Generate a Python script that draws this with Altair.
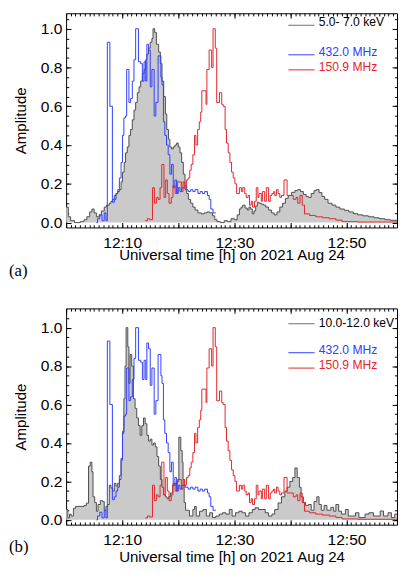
import altair as alt
import pandas as pd

# ---- data: time in minutes after 12:00 UT, normalised amplitude ----
XA_T = [0.0, 0.4, 0.8, 1.5, 2.5, 3.2, 3.7, 4.2, 4.6, 5.0, 5.4, 5.9, 6.3, 6.8, 7.2, 7.7, 8.0, 8.3, 8.6, 8.9,
        9.2, 9.5, 9.8, 10.05, 10.35, 10.6, 10.9, 11.2, 11.5, 11.8, 12.1, 12.4, 12.7, 13.0, 13.3, 13.6, 13.9,
        14.2, 14.4, 14.7, 15.0, 15.3, 15.5, 15.8, 16.1, 16.5, 16.8, 17.1, 17.4, 17.7, 17.95, 18.25, 18.5,
        18.8, 19.1, 19.4, 19.7, 20.0, 20.3, 20.6, 20.9, 21.2, 21.5, 21.8, 22.2, 22.6, 23.0, 23.5, 24.1,
        24.6, 25.1, 25.6, 26.1, 26.5, 26.9, 27.5, 28.2, 28.8, 29.4, 30.0, 30.5, 30.9, 31.2, 31.5, 31.9,
        32.3, 32.6, 32.9, 33.2, 33.5, 33.8, 34.1, 34.4, 34.8, 35.2, 35.6, 36.1, 36.6, 37.1, 37.6, 38.1,
        38.6, 39.1, 39.6, 40.2, 40.8, 41.3, 41.8, 42.3, 42.8, 43.2, 43.7, 44.2, 44.6, 45.1, 45.6, 46.1,
        46.7, 47.4, 48.1, 48.8, 49.6, 50.4, 51.2, 52.0, 52.9, 53.9, 54.9, 55.8, 56.8, 57.8, 59.0]
XA_V = [0.08, 0.03, 0.01, 0.0, 0.005, 0.015, 0.03, 0.055, 0.07, 0.05, 0.03, 0.04, 0.06, 0.08, 0.09, 0.10,
        0.11, 0.12, 0.14, 0.15, 0.16, 0.17, 0.21, 0.26, 0.31, 0.36, 0.39, 0.45, 0.48, 0.53, 0.58, 0.62, 0.67,
        0.70, 0.73, 0.77, 0.79, 0.84, 0.87, 0.90, 0.93, 0.95, 1.0, 0.98, 0.92, 0.88, 0.82, 0.73, 0.65, 0.56,
        0.48, 0.43, 0.39, 0.38, 0.39, 0.40, 0.41, 0.39, 0.36, 0.31, 0.25, 0.19, 0.15, 0.12, 0.10, 0.08,
        0.065, 0.05, 0.045, 0.05, 0.055, 0.05, 0.035, 0.015, 0.005, 0.0, 0.01, 0.005, 0.02, 0.015, 0.04,
        0.07, 0.08, 0.09, 0.075, 0.065, 0.08, 0.07, 0.045, 0.06, 0.085, 0.105, 0.10, 0.095, 0.09, 0.08,
        0.065, 0.05, 0.04, 0.055, 0.08, 0.10, 0.125, 0.14, 0.156, 0.165, 0.17, 0.16, 0.145, 0.135, 0.13,
        0.15, 0.165, 0.17, 0.155, 0.135, 0.12, 0.10, 0.09, 0.08, 0.07, 0.063, 0.055, 0.046, 0.04, 0.035,
        0.03, 0.025, 0.02, 0.015, 0.012, 0.01]

XB_T = [0.0, 0.3, 0.6, 0.9, 1.3, 1.7, 2.5, 3.2, 3.6, 4.0, 4.3, 4.6, 4.8, 5.1, 5.4, 5.7, 6.1, 6.5, 6.8, 7.1,
        7.4, 7.7, 8.0, 8.3, 8.6, 8.9, 9.2, 9.5, 9.8, 10.05, 10.3, 10.5, 10.7, 11.0, 11.2, 11.4, 11.7, 12.0,
        12.3, 12.6, 12.9, 13.2, 13.5, 13.8, 14.1, 14.4, 14.7, 15.0, 15.3, 15.6, 15.9, 16.2, 16.5, 16.8,
        17.1, 17.4, 17.7, 18.0, 18.3, 18.6, 19.0, 19.4, 19.8, 20.1, 20.45, 20.7, 20.85, 21.05, 21.3, 21.75,
        22.0, 22.6, 22.9, 23.2, 23.8, 24.4, 25.0, 25.6, 26.1, 26.7, 27.3, 27.9, 28.5, 29.1, 29.6, 30.2,
        30.8, 31.4, 32.0, 32.6, 33.2, 33.7, 34.3, 34.9, 35.5, 36.1, 36.7, 37.2, 37.8, 38.4, 39.0, 39.4,
        39.9, 40.4, 40.8, 41.2, 41.6, 41.9, 42.3, 42.7, 43.2, 43.7, 44.2, 44.7, 45.1, 45.5, 46.0, 46.5,
        47.2, 47.7, 48.1, 48.6, 49.1, 49.8, 50.3, 51.0, 51.6, 52.2, 53.3, 54.0, 54.8, 56.0, 56.6, 57.4,
        58.0, 58.6, 59.0]
XB_V = [0.054, 0.01, 0.03, 0.02, 0.06, 0.07, 0.07, 0.075, 0.087, 0.28, 0.30, 0.25, 0.12, 0.09, 0.045, 0.08,
        0.10, 0.095, 0.05, 0.07, 0.08, 0.18, 0.165, 0.15, 0.19, 0.175, 0.19, 0.21, 0.32, 0.46, 0.63, 0.80,
        1.0, 0.90, 0.71, 0.86, 0.80, 0.63, 0.58, 0.53, 0.49, 0.44, 0.49, 0.53, 0.50, 0.44, 0.41, 0.42, 0.39,
        0.40, 0.38, 0.33, 0.28, 0.21, 0.17, 0.13, 0.12, 0.11, 0.12, 0.14, 0.18, 0.19, 0.20, 0.43, 0.36,
        0.30, 0.21, 0.09, 0.05, 0.05, 0.02, 0.054, 0.07, 0.02, 0.045, 0.054, 0.02, 0.037, 0.012, 0.02, 0.03,
        0.037, 0.03, 0.054, 0.02, 0.037, 0.045, 0.037, 0.02, 0.037, 0.054, 0.063, 0.054, 0.054, 0.037, 0.02,
        0.03, 0.054, 0.088, 0.12, 0.15, 0.17, 0.20, 0.22, 0.27, 0.22, 0.17, 0.12, 0.09, 0.075, 0.08, 0.05,
        0.095, 0.12, 0.08, 0.05, 0.075, 0.05, 0.065, 0.045, 0.08, 0.045, 0.03, 0.054, 0.02, 0.02, 0.037,
        0.012, 0.03, 0.037, 0.02, 0.046, 0.02, 0.037, 0.012, 0.03, 0.03]

F432_T = [5.4, 5.6, 6.0, 6.4, 6.8, 7.1, 7.35, 7.8, 8.25, 8.6, 8.9, 9.2, 9.5, 9.8, 10.05, 10.3, 10.6, 10.8,
          11.2, 11.5, 11.8, 12.1, 12.4, 12.9, 13.3, 13.6, 13.9, 14.2, 14.4, 14.7, 15.0, 15.3, 15.7, 16.0,
          16.4, 16.9, 17.1, 17.35, 17.6, 17.9, 18.2, 18.5, 18.8, 19.1, 19.4, 19.7, 20.0, 20.3, 20.6, 21.2,
          21.75, 22.2, 22.6, 23.0, 23.5, 23.9, 24.3, 24.7, 25.2, 25.5, 25.8, 26.2, 26.7]
F432_V = [0.0, 0.02, 0.04, 0.01, 0.05, 0.01, 0.93, 0.60, 0.105, 0.12, 0.15, 0.17, 0.23, 0.31, 0.45, 0.54,
          0.55, 0.79, 0.62, 0.64, 0.73, 0.84, 1.0, 0.83, 0.82, 0.73, 0.83, 0.73, 0.92, 0.89, 0.70, 0.79,
          0.55, 0.62, 0.86, 0.75, 0.71, 0.52, 0.45, 0.40, 0.35, 0.25, 0.30, 0.18, 0.22, 0.15, 0.18, 0.16,
          0.18, 0.17, 0.16, 0.17, 0.16, 0.17, 0.15, 0.16, 0.15, 0.16, 0.14, 0.12, 0.07, 0.05, 0.05]

F151_T = [14.1, 14.5, 14.9, 15.4, 15.75, 16.1, 16.4, 16.75, 17.05, 17.45, 17.75, 18.05, 18.35, 18.75, 19.05,
          19.45, 19.85, 20.55, 20.85, 21.15, 21.45, 21.75, 22.05, 22.3, 22.6, 22.9, 23.15, 23.45, 23.75, 24.0,
          24.2, 24.95, 25.1, 25.5, 25.95, 26.2, 26.6, 26.85, 27.35, 27.75, 28.0, 28.35, 28.6, 28.9, 29.2,
          29.5, 29.8, 30.1, 30.4, 30.9, 31.25, 31.5, 31.85, 32.1, 32.45, 32.7, 33.0, 33.25, 33.6, 33.9, 34.2,
          34.4, 34.8, 35.0, 35.4, 35.7, 36.1, 36.4, 36.7, 37.0, 37.2, 37.5, 37.8, 38.1, 38.4, 38.85, 39.4,
          39.9, 40.5, 41.0, 41.3, 41.7, 42.1, 42.5, 43.4, 44.5, 45.7, 46.9, 48.1, 49.2, 52.0, 59.0]
F151_V = [0.01, 0.02, 0.015, 0.18, 0.10, 0.13, 0.12, 0.18, 0.30, 0.13, 0.22, 0.15, 0.10, 0.13, 0.19, 0.15,
          0.21, 0.16, 0.21, 0.18, 0.22, 0.23, 0.27, 0.30, 0.35, 0.45, 0.40, 0.48, 0.52, 0.57, 0.68, 0.61,
          0.79, 0.89, 0.80, 1.0, 0.90, 0.62, 0.67, 0.61, 0.60, 0.48, 0.41, 0.36, 0.31, 0.26, 0.23, 0.20,
          0.15, 0.18, 0.16, 0.18, 0.15, 0.13, 0.14, 0.09, 0.11, 0.08, 0.11, 0.18, 0.13, 0.15, 0.11, 0.16,
          0.11, 0.18, 0.11, 0.14, 0.15, 0.16, 0.14, 0.17, 0.15, 0.13, 0.14, 0.22, 0.14, 0.14, 0.12, 0.13,
          0.10, 0.14, 0.09, 0.045, 0.037, 0.03, 0.025, 0.02, 0.013, 0.005, 0.003, 0.003]

LEG_A = ["\u00a05.0- 7.0 keV", "432.0 MHz", "150.9 MHz"]
LEG_B = ["10.0-12.0 keV", "432.0 MHz", "150.9 MHz"]
X_TITLE = "Universal time [h] on 2021 Aug 24"
Y_TITLE = "Amplitude"
X_MAJOR = [0, 10, 20, 30, 40, 50]
X_LABEL_AT = [10, 30, 50]
X_LABELS = ["12:10", "12:30", "12:50"]
Y_MAJOR = [0.0, 0.2, 0.4, 0.6, 0.8, 1.0]
X_MINOR = [round(i * 10 / 12, 4) for i in range(71)]
Y_MINOR = [round(i * 0.05, 2) for i in range(22)]

GRAY_FILL = "#cacaca"
GRAY_LINE = "#4d4d4d"
LEG_GRAY = "#6e6e6e"
BLUE = "#3040ff"
RED = "#e3262b"
FONT = "Liberation Sans"

label_expr = "".join(f"datum.value == {p} ? '{l}' : " for p, l in zip(X_LABEL_AT, X_LABELS)) + "''"

W = 336


def panel(t_x, v_x, legend, H, ytop, leg_pos, tag, tag_y, xtitle_y):
    xs = alt.Scale(domain=[0, 59], nice=False, zero=False)
    ys = alt.Scale(domain=[-0.025, ytop], nice=False, zero=False)
    dfx = pd.DataFrame({"t": t_x, "v": v_x})
    dfb = pd.DataFrame({"t": F432_T, "v": F432_V})
    dfr = pd.DataFrame({"t": F151_T, "v": F151_V})

    common = dict(domain=False, grid=False, tickColor="black", tickWidth=1)
    ax_bot = alt.Axis(orient="bottom", values=X_MAJOR, labelExpr=label_expr, offset=-5, tickSize=5,
                      labelPadding=8.5, labelFontSize=15.8, labelFont=FONT, labelColor="black",
                      labelFlush=False, labelOverlap=False, title=X_TITLE, titleFont=FONT,
                      titleFontSize=15.3, titleFontWeight="normal", titleColor="black",
                      titleBaseline="alphabetic", titleY=xtitle_y, titleX=W / 2, **common)
    ax_left = alt.Axis(orient="left", values=Y_MAJOR, format=".1f", offset=-5, tickSize=5,
                       labelPadding=4.3, labelFontSize=15.8, labelFont=FONT, labelColor="black",
                       labelFlush=False, labelOverlap=False, title=Y_TITLE, titleFont=FONT,
                       titleFontSize=15.3, titleFontWeight="normal", titleColor="black",
                       titleAngle=270, titleBaseline="bottom", titleAlign="center",
                       titleX=-43, titleY=H / 2, **common)
    ax_top = alt.Axis(orient="top", values=X_MAJOR, labels=False, offset=-5, tickSize=5, title=None, **common)
    ax_right = alt.Axis(orient="right", values=Y_MAJOR, labels=False, offset=-5, tickSize=5, title=None, **common)
    ax_bot_m = alt.Axis(orient="bottom", values=X_MINOR, labels=False, offset=-2.7, tickSize=2.7, title=None, **common)
    ax_left_m = alt.Axis(orient="left", values=Y_MINOR, labels=False, offset=-2.7, tickSize=2.7, title=None, **common)
    ax_top_m = alt.Axis(orient="top", values=X_MINOR, labels=False, offset=-2.7, tickSize=2.7, title=None, **common)
    ax_right_m = alt.Axis(orient="right", values=Y_MINOR, labels=False, offset=-2.7, tickSize=2.7, title=None, **common)

    area = alt.Chart(dfx).mark_area(interpolate="step-after", color=GRAY_FILL, clip=True).encode(
        x=alt.X("t:Q", scale=xs, axis=ax_bot),
        y=alt.Y("v:Q", scale=ys, axis=ax_left),
        y2=alt.datum(0),
    )
    xline = alt.Chart(dfx).mark_line(interpolate="step-after", color=GRAY_LINE, strokeWidth=1, clip=True).encode(
        x=alt.X("t:Q", scale=xs, axis=ax_top),
        y=alt.Y("v:Q", scale=ys, axis=ax_right),
    )
    blue = alt.Chart(dfb).mark_line(interpolate="step-after", color=BLUE, strokeWidth=1, clip=True).encode(
        x=alt.X("t:Q", scale=xs, axis=ax_bot_m),
        y=alt.Y("v:Q", scale=ys, axis=ax_left_m),
    )
    red = alt.Chart(dfr).mark_line(interpolate="step-after", color=RED, strokeWidth=1, clip=True).encode(
        x=alt.X("t:Q", scale=xs, axis=ax_top_m),
        y=alt.Y("v:Q", scale=ys, axis=ax_right_m),
    )

    layers = [area, xline, blue, red]
    line_cols = [LEG_GRAY, BLUE, RED]
    text_cols = ["black", BLUE, RED]
    for lab, lc, tc, (ly, ty) in zip(legend, line_cols, text_cols, leg_pos):
        ldf = pd.DataFrame({"label": [lab]})
        layers.append(alt.Chart(ldf).mark_rule(color=lc, strokeWidth=1).encode(
            x=alt.value(225.7), x2=alt.value(252.3), y=alt.value(ly)))
        layers.append(alt.Chart(ldf).mark_text(align="left", baseline="alphabetic", font=FONT,
                                               fontSize=12.3, color=tc).encode(
            x=alt.value(256.5), y=alt.value(ty), text="label:N"))
    tdf = pd.DataFrame({"tag": [tag]})
    layers.append(alt.Chart(tdf).mark_text(align="left", baseline="middle", font="Liberation Serif",
                                           fontSize=17, color="black").encode(
        x=alt.value(-58), y=alt.value(tag_y), text="tag:N"))

    return alt.layer(*layers).resolve_axis(x="independent", y="independent").properties(width=W, height=H)


HA = 217.5
HB = 219.6
pa = panel(XA_T, XA_V, LEG_A, HA, 1.08, [(12.2, 13.2), (42.2, 43.0), (57.5, 58.3)], "(a)", 261.5, 38)
pb = panel(XB_T, XB_V, LEG_B, HB, 1.1, [(15.6, 18.5), (45.0, 46.0), (60.6, 61.6)], "(b)", 242.3, 42)

chart = alt.vconcat(pa, pb, spacing=81.7, bounds="flush", padding=0).configure_view(
    stroke="black", strokeWidth=1
)

chart.save("out.html", embed_options={"renderer": "svg", "actions": False})
